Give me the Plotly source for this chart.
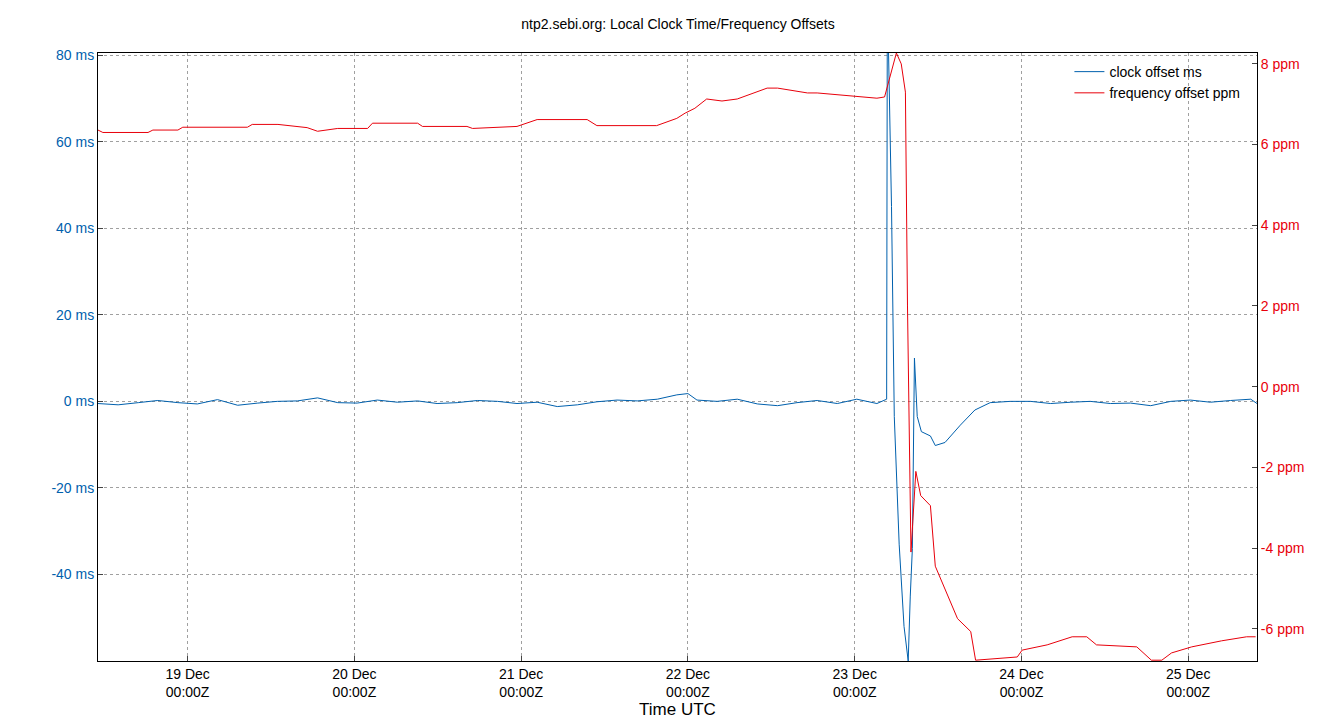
import pandas as pd
import plotly.graph_objects as go

# hours relative to 19 Dec 00:00Z
base = pd.Timestamp("2023-12-19 00:00")
freq_h = [-12.9, -12.2, -5.7, -5.0, -1.4, -0.7, 8.6, 9.3, 13.0, 17.2, 18.7, 21.6, 25.9, 26.6, 33.1, 33.8, 40.2, 41.0, 47.4, 50.3,
          57.5, 58.9, 67.5, 70.4, 71.6, 73.0, 74.7, 76.9, 79.1, 83.4, 84.9, 89.2, 90.6, 95.6, 99.2, 100.3, 101.0, 102.0, 102.7,
          103.3, 103.6, 104.1, 104.8, 105.5, 106.9, 107.6, 110.8, 112.7, 113.4, 119.4, 120.1, 123.7, 127.3, 129.4, 130.8, 136.6,
          138.7, 140.2, 141.6, 144.5, 148.8, 152.4, 153.7]
freq_ppm = [6.36, 6.3, 6.3, 6.36, 6.36, 6.43, 6.43, 6.5, 6.5, 6.42, 6.33, 6.4, 6.4, 6.53, 6.53, 6.45, 6.45, 6.4, 6.45, 6.62,
            6.62, 6.47, 6.47, 6.65, 6.78, 6.9, 7.13, 7.08, 7.13, 7.4, 7.4, 7.28, 7.28, 7.2, 7.15, 7.18, 7.65, 8.27, 8.0,
            7.3, 2.0, -4.1, -2.1, -2.7, -2.95, -4.45, -5.75, -6.07, -6.78, -6.7, -6.53, -6.4, -6.2, -6.2, -6.4, -6.45,
            -6.78, -6.78, -6.6, -6.45, -6.3, -6.2, -6.2]

clock_h = [-12.9, -10.0, -7.1, -4.3, -1.4, 1.4, 4.3, 7.2, 10.1, 12.9, 15.8, 18.7, 21.6, 24.4, 27.3, 30.2, 33.1, 35.9, 38.8,
           41.7, 44.6, 47.4, 50.3, 53.2, 56.1, 58.9, 61.8, 64.7, 67.6, 70.4, 72.0, 73.3, 76.2, 79.1, 82.0, 84.9, 87.7, 90.6,
           93.5, 96.3, 99.2, 100.6, 100.7, 101.3, 101.7, 102.4, 103.1, 103.7, 104.0, 104.3, 104.6, 105.0, 105.6, 106.9,
           107.6, 109.0, 111.2, 113.3, 115.5, 118.4, 121.3, 124.2, 127.1, 129.9, 132.8, 135.7, 138.6, 141.5, 144.3, 147.2,
           150.1, 153.0, 153.9]
clock_ms = [-0.5, -0.8, -0.3, 0.2, -0.3, -0.6, 0.4, -0.9, -0.4, 0.0, 0.1, 0.8, -0.3, -0.4, 0.3, -0.2, 0.1, -0.5, -0.3,
            0.2, 0.0, -0.5, -0.2, -1.2, -0.8, -0.1, 0.3, 0.1, 0.5, 1.5, 1.8, 0.3, 0.0, 0.5, -0.6, -1.0, -0.3, 0.2, -0.5,
            0.5, -0.5, 0.5, 95.0, 45.0, -3.5, -33.0, -52.0, -60.0, -45.0, -34.0, 10.0, -3.5, -7.0, -8.0, -10.2, -9.5,
            -5.5, -2.0, -0.3, 0.0, 0.0, -0.5, -0.2, 0.0, -0.5, -0.4, -1.0, 0.0, 0.3, -0.2, 0.2, 0.5, -0.5]

ms_ticks = [-40, -20, 0, 20, 40, 60, 80]
ppm_ticks = [-6, -4, -2, 0, 2, 4, 6, 8]
day_ticks = [base + pd.Timedelta(days=d) for d in range(0, 7)]
day_labels = [f"{t.day} Dec<br>00:00Z" for t in day_ticks]

to_t = lambda hs: [base + pd.Timedelta(hours=h) for h in hs]
blue, red = "#0060ad", "#e8000b"

fig = go.Figure()
fig.add_trace(go.Scatter(x=to_t(clock_h), y=clock_ms, mode="lines", name="clock offset ms",
                         line=dict(color=blue, width=1)))
fig.add_trace(go.Scatter(x=to_t(freq_h), y=freq_ppm, mode="lines", name="frequency offset ppm",
                         line=dict(color=red, width=1), yaxis="y2"))

axis_common = dict(showline=True, linecolor="black", mirror=True, ticks="inside", ticklen=5,
                   gridcolor="#a0a0a0", griddash="dot", gridwidth=1, zeroline=False)
fig.update_layout(
    width=1340, height=720, plot_bgcolor="white", paper_bgcolor="white",
    font=dict(family="Liberation Sans, Arial", size=14, color="black"),
    margin=dict(l=90, r=91, t=45, b=64),
    title=dict(text="ntp2.sebi.org: Local Clock Time/Frequency Offsets", x=0.5, y=0.985, font=dict(size=14)),
    xaxis=dict(range=[base - pd.Timedelta(hours=12.9), base + pd.Timedelta(hours=153.9)],
               tickvals=day_ticks, ticktext=day_labels, title=dict(text="Time UTC", standoff=4),
               **axis_common),
    yaxis=dict(range=[-60, 80.5], tickvals=ms_ticks, ticktext=[f"{v} ms" for v in ms_ticks],
               tickfont=dict(color=blue), **axis_common),
    yaxis2=dict(range=[-6.8, 8.27], overlaying="y", side="right", tickvals=ppm_ticks,
                ticktext=[f"{v} ppm" for v in ppm_ticks], tickfont=dict(color=red), showgrid=False,
                showline=True, linecolor="black", ticks="inside", ticklen=5, zeroline=False),
    legend=dict(x=0.99, y=0.995, xanchor="right", yanchor="top", bgcolor="rgba(0,0,0,0)",
                font=dict(size=14)),
    showlegend=True,
)
fig.write_html("out.html")
